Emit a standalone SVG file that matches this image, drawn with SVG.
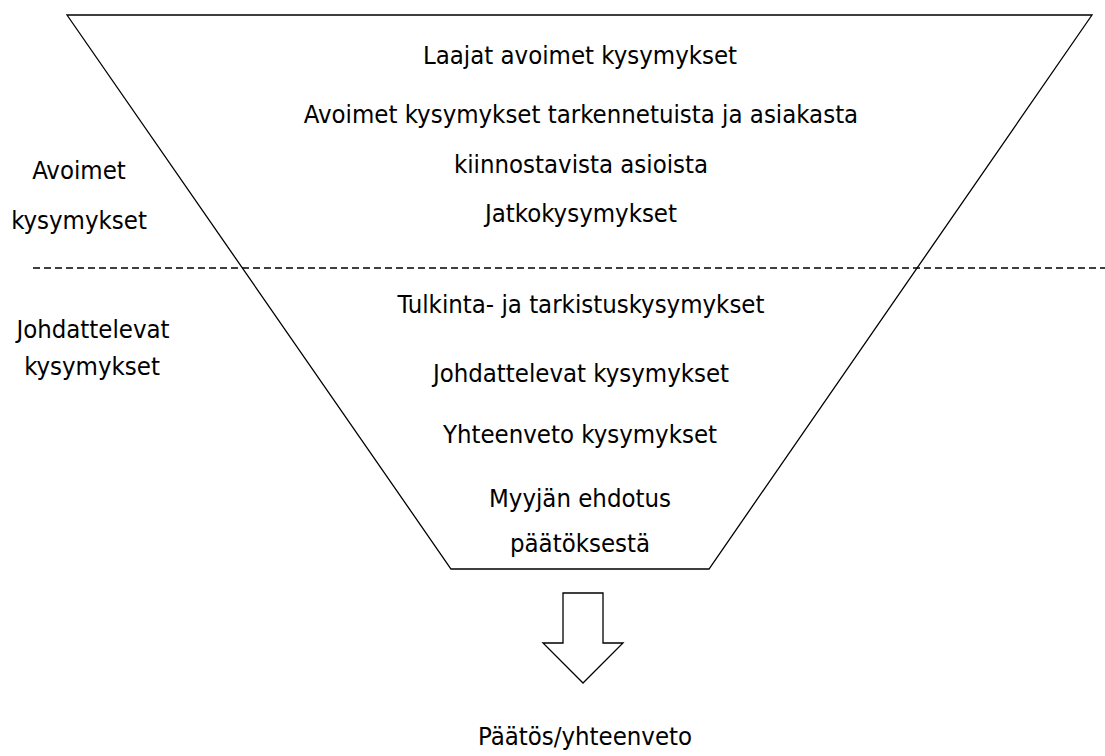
<svg xmlns="http://www.w3.org/2000/svg" width="1105" height="756" viewBox="0 0 1105 756">
<style>
  text { font-family: "DejaVu Sans Condensed", "DejaVu Sans", sans-serif; font-stretch: condensed; font-size: 25.5px; fill: #000; text-anchor: middle; }
  .shape { fill: #fff; stroke: #000; stroke-width: 1.3; }
  .divider { fill: none; stroke: #000; stroke-width: 1.3; stroke-dasharray: 7 4; }
</style>
<rect width="1105" height="756" fill="#fff"/>
<g id="funnel">
  <polygon class="shape" points="67,15 1092,15 709,569 451,569"/>
</g>
<g id="divider">
  <line class="divider" x1="33" y1="268" x2="1105" y2="268"/>
</g>
<g id="connectors">
  <polygon class="shape" points="563,593 603,593 603,643 623,643 583,683 543,643 563,643"/>
</g>
<g id="label-open">
  <text x="79" y="179">Avoimet</text>
  <text x="79" y="229">kysymykset</text>
</g>
<g id="label-leading">
  <text x="93" y="338">Johdattelevat</text>
  <text x="92" y="375">kysymykset</text>
</g>
<g id="funnel-top">
  <text x="580" y="64">Laajat avoimet kysymykset</text>
  <text x="581" y="122.5">Avoimet kysymykset tarkennetuista ja asiakasta</text>
  <text x="581" y="173">kiinnostavista asioista</text>
  <text x="581" y="222">Jatkokysymykset</text>
</g>
<g id="funnel-bottom">
  <text x="581" y="313">Tulkinta- ja tarkistuskysymykset</text>
  <text x="581" y="382">Johdattelevat kysymykset</text>
  <text x="580" y="443">Yhteenveto kysymykset</text>
  <text x="580" y="507">Myyjän ehdotus</text>
  <text x="580" y="552">päätöksestä</text>
</g>
<g id="result">
  <text x="585" y="745">Päätös/yhteenveto</text>
</g>
</svg>
